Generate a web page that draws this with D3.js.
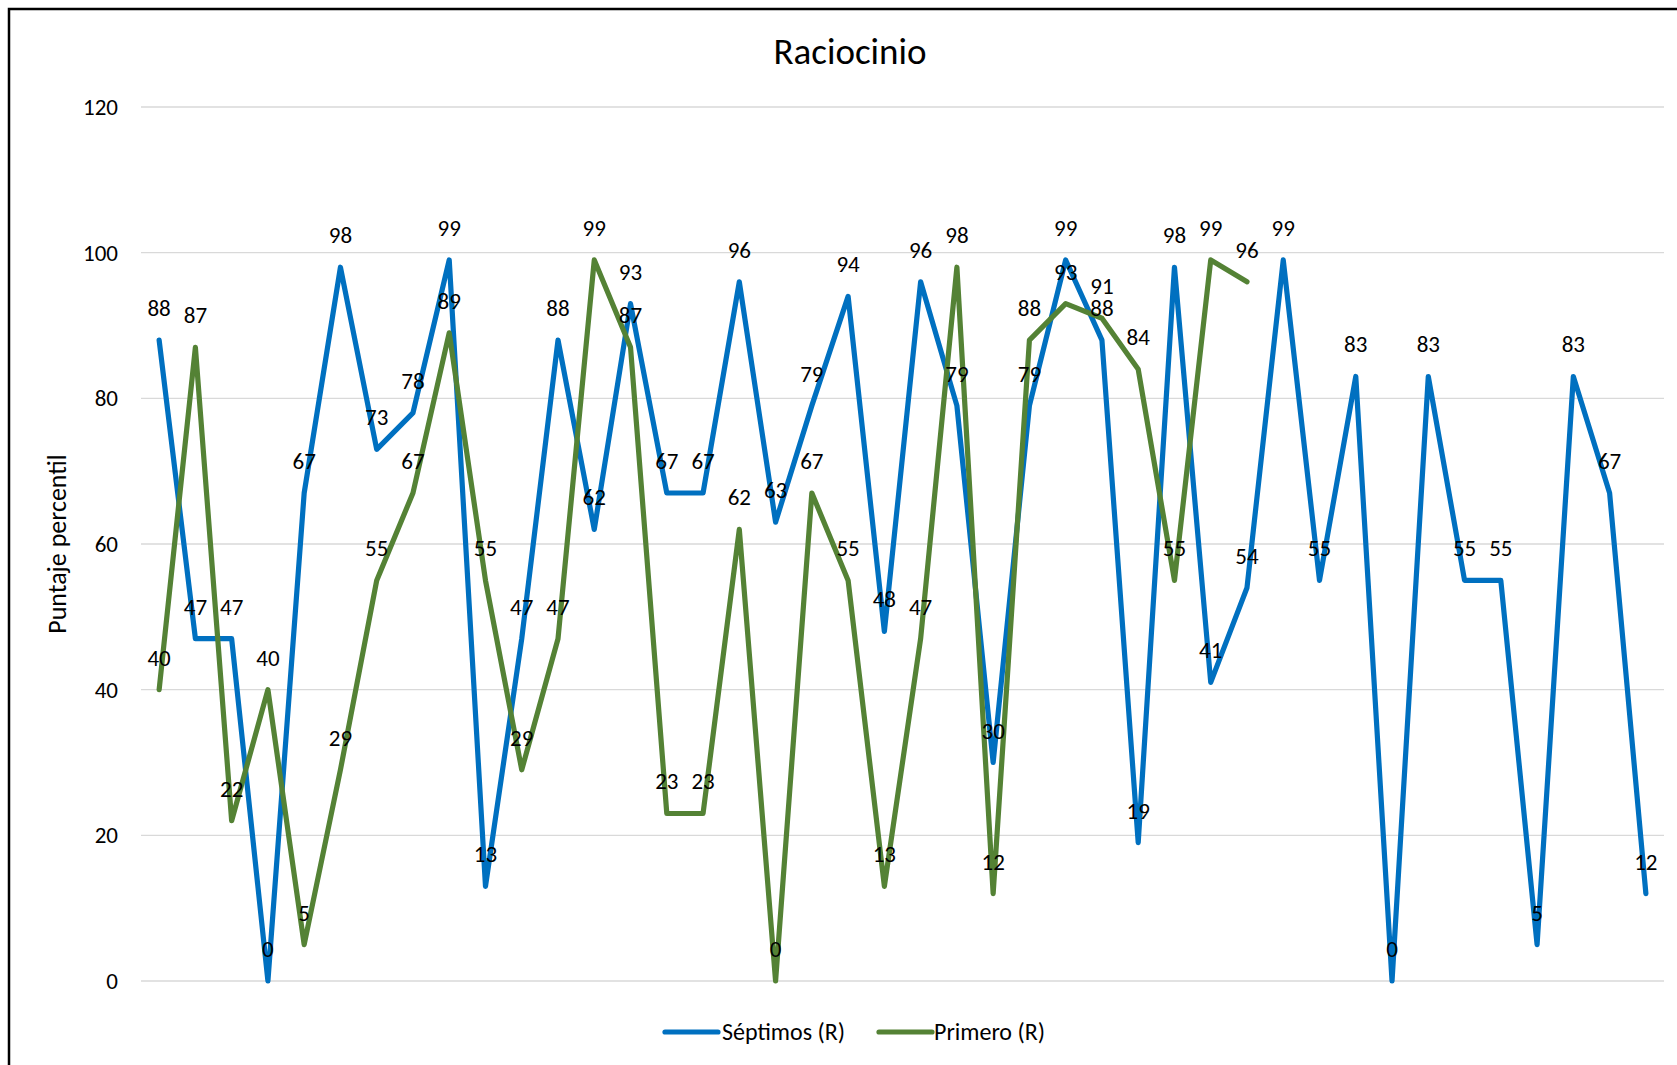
<!DOCTYPE html>
<html lang="es">
<head>
<meta charset="UTF-8"/>
<title>Raciocinio</title>
<script src="https://d3js.org/d3.v7.min.js"></script>
<style>
  body { margin: 0; background: #fff; }
  svg text { font-family: Calibri, Carlito, Lato, sans-serif; fill: #000; }
</style>
</head>
<body>
<div id="chart"></div>
<script>
// Data
var septimos = [88, 47, 47, 0, 67, 98, 73, 78, 99, 13, 47, 88, 62, 93, 67, 67, 96, 63, 79, 94,
  48, 96, 79, 30, 79, 99, 88, 19, 98, 41, 54, 99, 55, 83, 0, 83, 55, 55, 5, 83, 67, 12];
var primero = [40, 87, 22, 40, 5, 29, 55, 67, 89, 55, 29, 47, 99, 87, 23, 23, 62, 0, 67, 55,
  13, 47, 98, 12, 88, 93, 91, 84, 55, 99, 96];
var yTicks = [0, 20, 40, 60, 80, 100, 120];
var seriesNames = ["Séptimos (R)", "Primero (R)"];
var seriesColors = ["#0070C0", "#548235"];

var width = 1677, height = 1065;
var plotLeft = 141, plotRight = 1664, plotTop = 107, plotBottom = 981;

var svg = d3.select("#chart").append("svg")
  .attr("width", width)
  .attr("height", height);

// chart border (only left and top fall inside the picture)
svg.append("rect")
  .attr("x", 9).attr("y", 9)
  .attr("width", width + 20).attr("height", height + 20)
  .attr("fill", "none")
  .attr("stroke", "#000")
  .attr("stroke-width", 2.5);

var x = d3.scalePoint()
  .domain(d3.range(septimos.length))
  .range([plotLeft, plotRight])
  .padding(0.5);

var y = d3.scaleLinear()
  .domain([0, 120])
  .range([plotBottom, plotTop]);

// gridlines
svg.append("g")
  .selectAll("line")
  .data(yTicks)
  .enter()
  .append("line")
  .attr("x1", plotLeft).attr("x2", plotRight)
  .attr("y1", d => y(d)).attr("y2", d => y(d))
  .attr("stroke", "#d9d9d9")
  .attr("stroke-width", 1.3);

// y axis tick labels
svg.append("g")
  .selectAll("text")
  .data(yTicks)
  .enter()
  .append("text")
  .attr("x", 118)
  .attr("y", d => y(d))
  .attr("dy", "0.35em")
  .attr("text-anchor", "end")
  .style("font-size", "23px")
  .text(d => d);

// title
svg.append("text")
  .attr("x", 850).attr("y", 64)
  .attr("text-anchor", "middle")
  .style("font-size", "37px")
  .text("Raciocinio");

// y axis title
svg.append("text")
  .attr("transform", "translate(66,544) rotate(-90)")
  .attr("text-anchor", "middle")
  .style("font-size", "26px")
  .text("Puntaje percentil");

var line = d3.line()
  .x((d, i) => x(i))
  .y(d => y(d));

var allSeries = [septimos, primero];

svg.selectAll("path.series")
  .data(allSeries)
  .enter()
  .append("path")
  .attr("class", "series")
  .attr("d", d => line(d))
  .attr("fill", "none")
  .attr("stroke", (d, i) => seriesColors[i])
  .attr("stroke-width", 5.2)
  .attr("stroke-linejoin", "round")
  .attr("stroke-linecap", "round");

// data labels above each point
allSeries.forEach(function(series) {
  svg.append("g")
    .selectAll("text")
    .data(series)
    .enter()
    .append("text")
    .attr("x", (d, i) => x(i))
    .attr("y", d => y(d) - 24)
    .attr("text-anchor", "middle")
    .style("font-size", "23px")
    .text(d => d);
});

// legend
var legend = svg.append("g");
var legendItems = [
  { x: 665, textX: 722 },
  { x: 879, textX: 934 }
];
legendItems.forEach(function(item, i) {
  legend.append("line")
    .attr("x1", item.x).attr("x2", item.x + 53)
    .attr("y1", 1032).attr("y2", 1032)
    .attr("stroke", seriesColors[i])
    .attr("stroke-width", 5.2)
    .attr("stroke-linecap", "round");
  legend.append("text")
    .attr("x", item.textX).attr("y", 1032)
    .attr("dy", "0.35em")
    .style("font-size", "24px")
    .text(seriesNames[i]);
});
</script>
</body>
</html>
